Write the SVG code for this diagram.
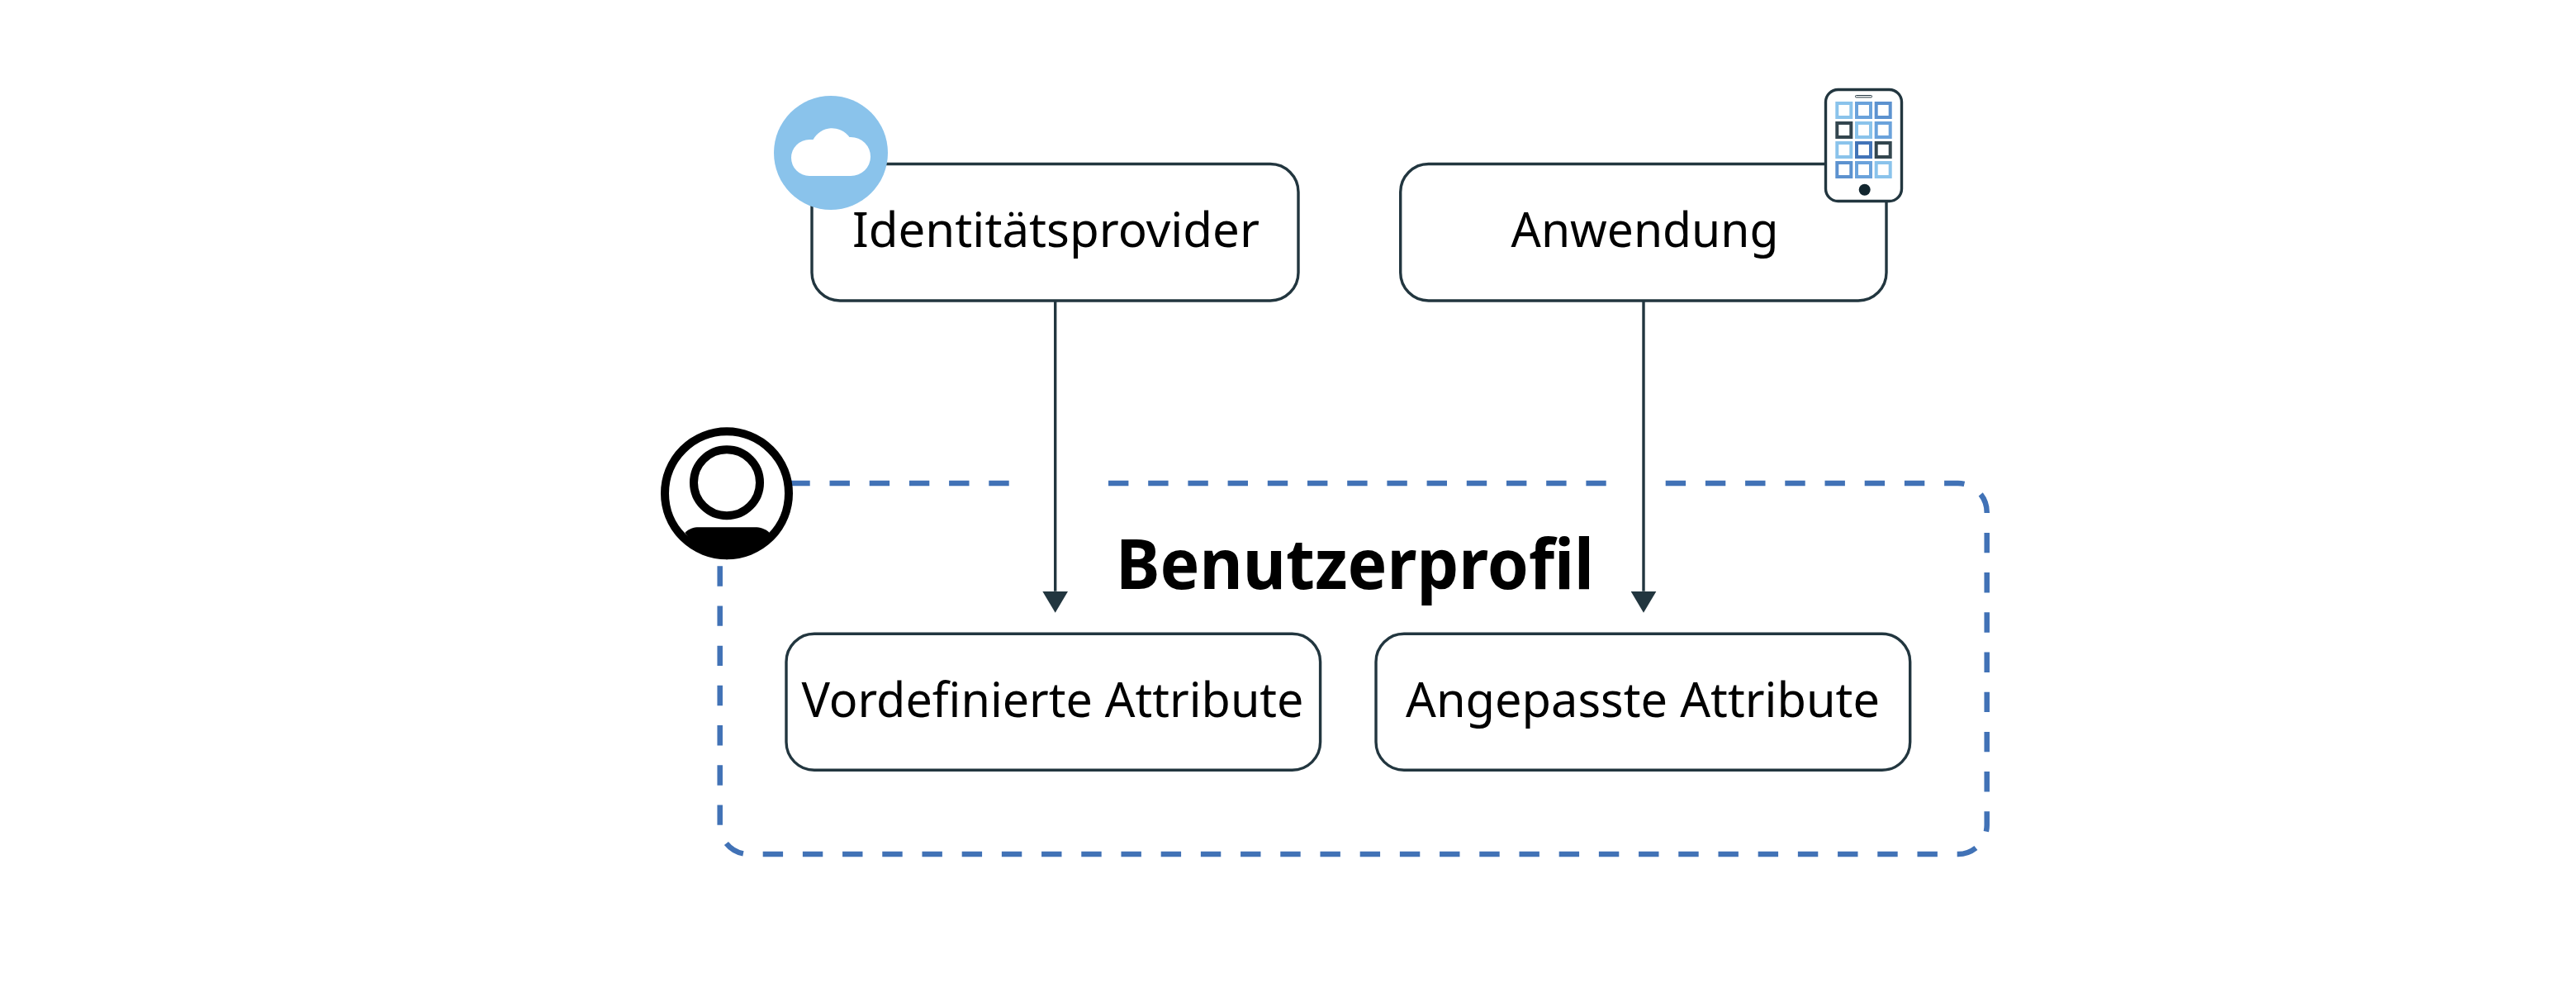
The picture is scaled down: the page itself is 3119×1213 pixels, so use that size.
<svg xmlns="http://www.w3.org/2000/svg" width="3119" height="1213" viewBox="0 0 3119 1213">
<style>
.box{fill:#fff;stroke:#22363f;stroke-width:3.4}
.t{font-family:"Noto Sans","Liberation Sans",sans-serif;font-size:57.500px;fill:#000}
.h{font-family:"Noto Sans","Liberation Sans",sans-serif;font-size:84px;font-weight:700;fill:#000}
.conn{fill:none;stroke:#22363f;stroke-width:3.4;marker-end:url(#arrow)}
.dash{fill:none;stroke:#4172b6;stroke-width:6.500;stroke-dasharray:24.4 23.8}
.sq{fill:#fff;stroke-width:4}
.c1{stroke:#8ac3eb}.c2{stroke:#6aa2db}.c3{stroke:#5c92cf}.c4{stroke:#33464f}.c5{stroke:#4274b8}
</style>
<defs>
<marker id="arrow" markerUnits="userSpaceOnUse" markerWidth="26" markerHeight="31" refX="0" refY="15.500" orient="auto" viewBox="0 0 26 31"><path d="M0,0L26,15.500L0,31Z" fill="#22363f"/></marker>
</defs>
<rect width="3119" height="1213" fill="#fff"/>
<g id="connectors">
<path class="dash" d="M956.3,585H1221.7M1342,585H1944.7M2016.7,585H2370.7a35,35 0 0 1 35,35V999a35,35 0 0 1 -35,35H906.7a35,35 0 0 1 -35,-35V685"/>
<path class="conn" d="M1277.7,364V715.700"/>
<path class="conn" d="M1990,364V715.700"/>
</g>
<g id="profile">
<text class="h" x="1351" y="713.3" textLength="579" lengthAdjust="spacingAndGlyphs">Benutzerprofil</text>
<circle cx="880" cy="597.3" r="75" fill="#fff" stroke="#000" stroke-width="10"/>
<circle cx="880" cy="584.3" r="40" fill="#fff" stroke="#000" stroke-width="10"/>
<path d="M829.3,645C834,640 840,638.3 846,638.3H914C920,638.3 927,640 931.7,645A80,80 0 0 1 880,677.3A80,80 0 0 1 829.3,645Z" fill="#000"/>
</g>
<g id="identity">
<rect class="box" x="983" y="198.500" width="589" height="165.500" rx="34" ry="34"/>
<text class="t" x="1032" y="299.3" textLength="493" lengthAdjust="spacingAndGlyphs">Identitätsprovider</text>
<circle cx="1006" cy="185" r="69" fill="#8ac3eb"/>
<path d="M980,213a22,22 0 0 1 -22,-22a22,22 0 0 1 22,-22h4.500a26,26 0 0 1 44,-3h1.500a24,23.500 0 0 1 24,24a24,23 0 0 1 -24,23z" fill="#fff"/>
</g>
<g id="application">
<rect class="box" x="1695.700" y="198.500" width="588.300" height="165.500" rx="34" ry="34"/>
<text class="t" x="1829.500" y="299.3" textLength="324" lengthAdjust="spacingAndGlyphs">Anwendung</text>
<rect x="2210.500" y="108.500" width="92" height="135" rx="15" fill="#fff" stroke="#22363f" stroke-width="3.400"/>
<rect x="2246.500" y="115.500" width="20" height="2.400" rx="1" fill="#fff" stroke="#22363f" stroke-width="1"/>
<circle cx="2257.700" cy="229.700" r="7" fill="#12262f"/>
<rect class="sq c1" x="2224.300" y="125" width="17" height="17"/><rect class="sq c2" x="2248" y="125" width="17" height="17"/><rect class="sq c3" x="2271.700" y="125" width="17" height="17"/>
<rect class="sq c4" x="2224.300" y="149" width="17" height="17"/><rect class="sq c1" x="2248" y="149" width="17" height="17"/><rect class="sq c2" x="2271.700" y="149" width="17" height="17"/>
<rect class="sq c1" x="2224.300" y="173" width="17" height="17"/><rect class="sq c5" x="2248" y="173" width="17" height="17"/><rect class="sq c4" x="2271.700" y="173" width="17" height="17"/>
<rect class="sq c3" x="2224.300" y="197" width="17" height="17"/><rect class="sq c2" x="2248" y="197" width="17" height="17"/><rect class="sq c1" x="2271.700" y="197" width="17" height="17"/>
</g>
<g id="predefined">
<rect class="box" x="952" y="767.300" width="646.600" height="165" rx="34" ry="34"/>
<text class="t" x="970.500" y="868.300" textLength="608" lengthAdjust="spacingAndGlyphs">Vordefinierte Attribute</text>
</g>
<g id="custom">
<rect class="box" x="1666" y="767.300" width="646.700" height="165" rx="34" ry="34"/>
<text class="t" x="1702" y="868.300" textLength="574" lengthAdjust="spacingAndGlyphs">Angepasste Attribute</text>
</g>
</svg>
